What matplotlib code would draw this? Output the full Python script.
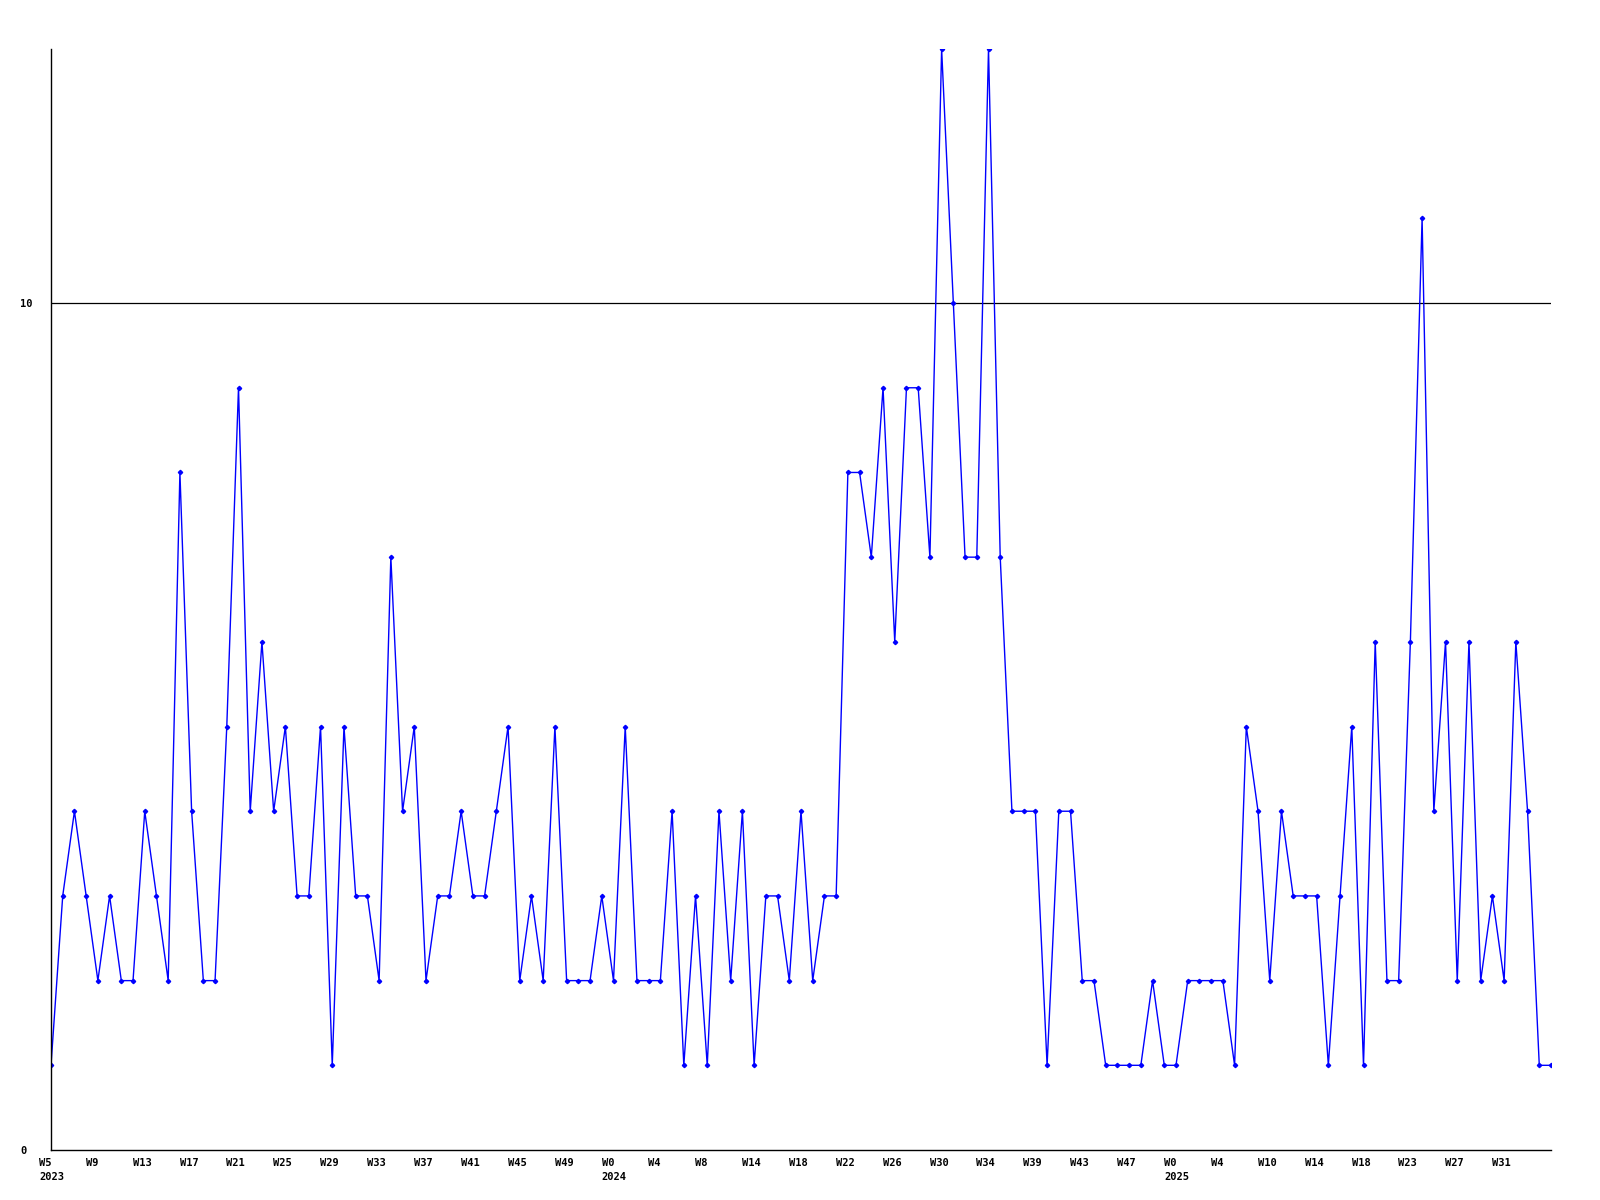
import matplotlib
matplotlib.use('Agg')
import matplotlib.pyplot as plt
import matplotlib.transforms as mtransforms

# weekly counts, one point per week
counts = [
    1, 3, 4, 3, 2, 3, 2, 2, 4, 3, 2, 8, 4, 2, 2, 5,
    9, 4, 6, 4, 5, 3, 3, 5, 1, 5, 3, 3, 2, 7, 4, 5,
    2, 3, 3, 4, 3, 3, 4, 5, 2, 3, 2, 5, 2, 2, 2, 3,
    2, 5, 2, 2, 2, 4, 1, 3, 1, 4, 2, 4, 1, 3, 3, 2,
    4, 2, 3, 3, 8, 8, 7, 9, 6, 9, 9, 7, 13, 10, 7, 7,
    13, 7, 4, 4, 4, 1, 4, 4, 2, 2, 1, 1, 1, 1, 2, 1,
    1, 2, 2, 2, 2, 1, 5, 4, 2, 4, 3, 3, 3, 1, 3, 5,
    1, 6, 2, 2, 6, 11, 4, 6, 2, 6, 2, 3, 2, 6, 4, 1,
    1,
]

# x labels, one every 4 points
week_labels = [
    'W5\n2023', 'W9', 'W13', 'W17', 'W21', 'W25', 'W29', 'W33',
    'W37', 'W41', 'W45', 'W49', 'W0\n2024', 'W4', 'W8', 'W14',
    'W18', 'W22', 'W26', 'W30', 'W34', 'W39', 'W43', 'W47',
    'W0\n2025', 'W4', 'W10', 'W14', 'W18', 'W23', 'W27', 'W31',
]
label_step = 4

y_ticks = [0, 10]

fig = plt.figure(figsize=(16, 12), dpi=100)
ax = fig.add_axes([51 / 1600, 50 / 1200, 1500 / 1600, 1101 / 1200])

xs = list(range(len(counts)))
ax.plot(xs, counts, color='#0000ff', linewidth=1.0, marker='D',
        markersize=2.2, markerfacecolor='#0000ff', markeredgecolor='#0000ff',
        clip_on=True)

ax.set_xlim(0, len(counts) - 1)
ax.set_ylim(0, 13)

for side in ['top', 'right']:
    ax.spines[side].set_visible(False)
for side in ['left', 'bottom']:
    ax.spines[side].set_color('black')
    ax.spines[side].set_linewidth(1.0)

ax.axhline(10, color='black', linewidth=0.9, zorder=0)

font = dict(family='DejaVu Sans Mono', weight='bold', size=7.5)

ax.set_xticks([i * label_step for i in range(len(week_labels))])
ax.set_xticklabels(week_labels, fontdict=font, ha='left', linespacing=1.45)
ax.tick_params(axis='x', length=0, pad=6)
shift = mtransforms.ScaledTranslation(-12 / 100, 0, fig.dpi_scale_trans)
for lbl in ax.get_xticklabels():
    lbl.set_transform(lbl.get_transform() + shift)

ax.set_yticks(y_ticks)
ax.set_yticklabels([str(v) for v in y_ticks], fontdict=font, ha='left')
ax.tick_params(axis='y', length=0, pad=22)
for lbl in ax.get_yticklabels():
    if lbl.get_text() == '0':
        lbl.set_va('top')
        lbl.set_transform(lbl.get_transform() +
                          mtransforms.ScaledTranslation(0, 4 / 100, fig.dpi_scale_trans))

fig.savefig('out.png', dpi=100, facecolor='white')
